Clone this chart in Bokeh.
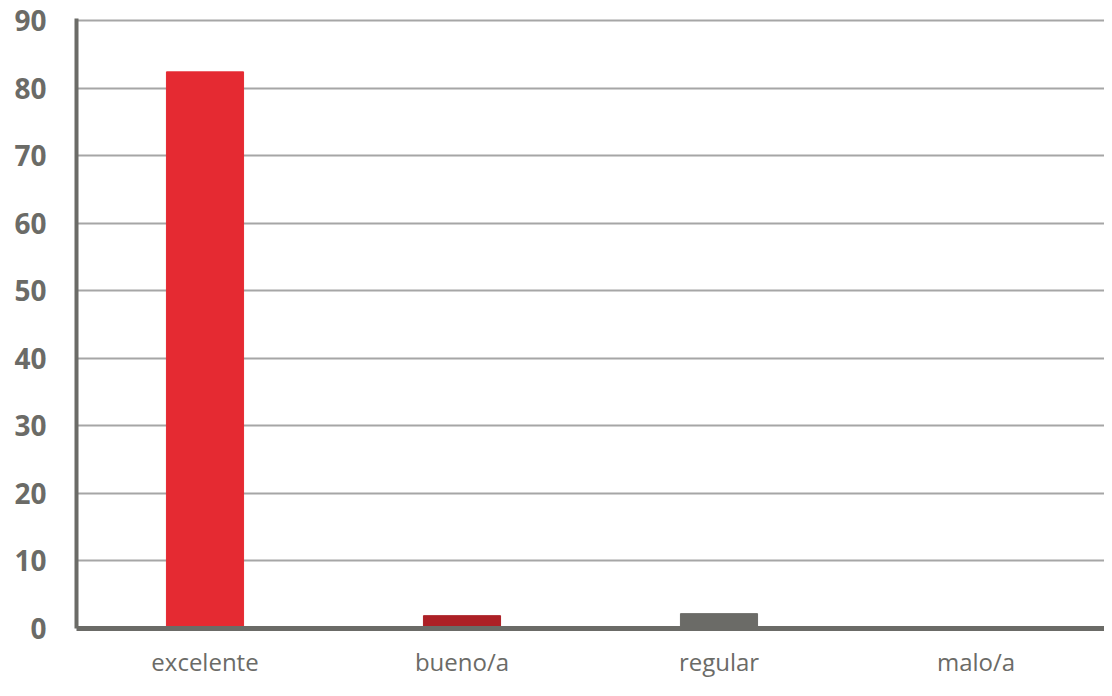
from bokeh.plotting import figure
from bokeh.models import ColumnDataSource, FixedTicker, Range1d
from bokeh.embed import file_html
from bokeh.resources import INLINE

categories = ["excelente", "bueno/a", "regular", "malo/a"]
values = [82.4, 1.9, 2.2, 0.0]
colors = ["#e52a32", "#ad2026", "#6b6b67", "#6b6b67"]
y_ticks = [0, 10, 20, 30, 40, 50, 60, 70, 80, 90]

src = ColumnDataSource(dict(cat=categories, val=values, color=colors))

p = figure(x_range=categories, y_range=Range1d(0, 90.3), width=1104, height=688,
           output_backend="svg", toolbar_location=None,
           min_border_left=76, min_border_right=0, min_border_top=18, min_border_bottom=60)
p.vbar(x="cat", top="val", width=0.3, color="color", source=src)

p.outline_line_color = None
p.xgrid.grid_line_color = None
p.ygrid.grid_line_color = "#a6a6a6"
p.ygrid.grid_line_width = 2
p.yaxis.ticker = FixedTicker(ticks=y_ticks)

for ax in (p.xaxis, p.yaxis):
    ax.axis_line_color = "#6b6b67"
    ax.major_tick_line_color = None
    ax.minor_tick_line_color = None
    ax.major_label_text_color = "#6b6b67"
    ax.major_label_text_font = "Open Sans"
p.yaxis.axis_line_width = 4
p.xaxis.axis_line_width = 5
p.yaxis.major_label_text_font_size = "28px"
p.yaxis.major_label_text_font_style = "bold"
p.yaxis.major_label_standoff = 24
p.xaxis.major_label_text_font_size = "24px"
p.xaxis.major_label_standoff = 10

open("out.html", "w").write(file_html(p, INLINE))
